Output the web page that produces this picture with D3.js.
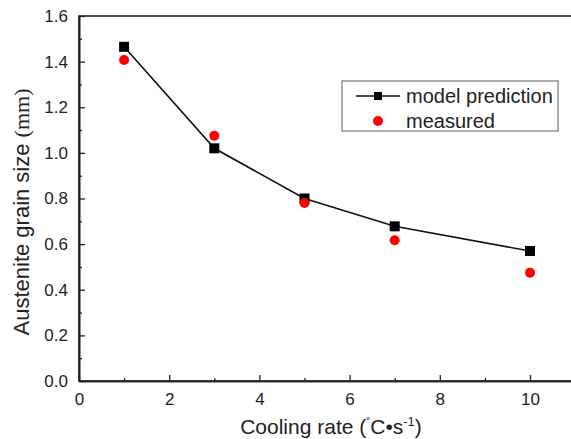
<!doctype html>
<html>
<head>
<meta charset="utf-8">
<script src="https://cdn.jsdelivr.net/npm/d3@7"></script>
<style>
  body { margin: 0; background: #fff; }
  text { font-family: Arial, "Liberation Sans", sans-serif; fill: #222; }
</style>
</head>
<body>
<script>
// data
var coolingRate = [1, 3, 5, 7, 10];
var modelSize = [1.465, 1.02, 0.80, 0.678, 0.57];
var measuredSize = [1.407, 1.075, 0.78, 0.617, 0.475];
var xTicks = [0, 2, 4, 6, 8, 10];
var yTicks = [0.0, 0.2, 0.4, 0.6, 0.8, 1.0, 1.2, 1.4, 1.6];

var W = 571, H = 439;
var margin = {top: 16, left: 79, bottom: 58};

var svg = d3.select("body").append("svg")
  .attr("width", W).attr("height", H);

var x = d3.scaleLinear().domain([0, 11]).range([margin.left, margin.left + 11 * 45.1]);
var y = d3.scaleLinear().domain([0, 1.6]).range([H - margin.bottom, margin.top]);

// frame
svg.append("rect")
  .attr("x", x(0)).attr("y", y(1.6))
  .attr("width", x(11) - x(0)).attr("height", y(0) - y(1.6))
  .attr("fill", "none").attr("stroke", "#222").attr("stroke-width", 1.6);

// x axis, ticks pointing inward
svg.append("g").attr("transform", "translate(0," + y(0) + ")")
  .call(d3.axisBottom(x).tickValues(xTicks).tickSizeInner(-6).tickSizeOuter(0).tickPadding(12).tickFormat(d3.format("d")));
svg.append("g").attr("transform", "translate(0," + y(0) + ")")
  .call(d3.axisBottom(x).tickValues([1, 3, 5, 7, 9]).tickSizeInner(-3).tickSizeOuter(0).tickFormat(""));

svg.append("g").attr("transform", "translate(" + x(0) + ",0)")
  .call(d3.axisLeft(y).tickValues(yTicks).tickSizeInner(-6).tickSizeOuter(0).tickPadding(11).tickFormat(d3.format(".1f")));
svg.append("g").attr("transform", "translate(" + x(0) + ",0)")
  .call(d3.axisLeft(y).tickValues([0.1, 0.3, 0.5, 0.7, 0.9, 1.1, 1.3, 1.5]).tickSizeInner(-3).tickSizeOuter(0).tickFormat(""));

svg.selectAll(".domain").attr("stroke", "#222").attr("stroke-width", 1.6);
svg.selectAll(".tick line").attr("stroke", "#222").attr("stroke-width", 1.3);
svg.selectAll(".tick text").style("font-size", "17px").attr("fill", "#222");

// axis titles
svg.append("text")
  .attr("x", 331).attr("y", 434)
  .attr("text-anchor", "middle")
  .style("font-size", "21px")
  .html('Cooling rate (<tspan dy="-7" style="font-size:12px">&#730;</tspan><tspan dy="7">C&#8226;s</tspan><tspan dy="-8" style="font-size:13px">-1</tspan><tspan dy="8">)</tspan>');

svg.append("text")
  .attr("transform", "translate(29," + 212 + ") rotate(-90)")
  .attr("text-anchor", "middle")
  .style("font-size", "22px")
  .html('Austenite grain size <tspan font-family="Liberation Serif, DejaVu Serif, serif" style="font-family: \'Liberation Serif\', serif">(mm)</tspan>');

// model line + squares
var line = d3.line()
  .x(function(d, i) { return x(coolingRate[i]); })
  .y(function(d) { return y(d); });

svg.append("path")
  .datum(modelSize)
  .attr("d", line)
  .attr("fill", "none").attr("stroke", "#111").attr("stroke-width", 1.6);

svg.selectAll(".sq").data(modelSize).enter().append("rect")
  .attr("x", function(d, i) { return x(coolingRate[i]) - 5; })
  .attr("y", function(d) { return y(d) - 5; })
  .attr("width", 10).attr("height", 10)
  .attr("fill", "#000");

svg.selectAll(".dot").data(measuredSize).enter().append("circle")
  .attr("cx", function(d, i) { return x(coolingRate[i]); })
  .attr("cy", function(d) { return y(d); })
  .attr("r", 5)
  .attr("fill", "#f00");

// legend
var lg = svg.append("g");
lg.append("rect")
  .attr("x", 342).attr("y", 81).attr("width", 216).attr("height", 50)
  .attr("fill", "#fff").attr("stroke", "#777").attr("stroke-width", 1.2);
lg.append("line")
  .attr("x1", 356).attr("x2", 400).attr("y1", 96).attr("y2", 96)
  .attr("stroke", "#111").attr("stroke-width", 1.6);
lg.append("rect")
  .attr("x", 374).attr("y", 92).attr("width", 8).attr("height", 8).attr("fill", "#000");
lg.append("circle")
  .attr("cx", 378).attr("cy", 121).attr("r", 5).attr("fill", "#f00");
lg.append("text").attr("x", 406).attr("y", 103).style("font-size", "20px").text("model prediction");
lg.append("text").attr("x", 406).attr("y", 128).style("font-size", "20px").text("measured");
</script>
</body>
</html>
